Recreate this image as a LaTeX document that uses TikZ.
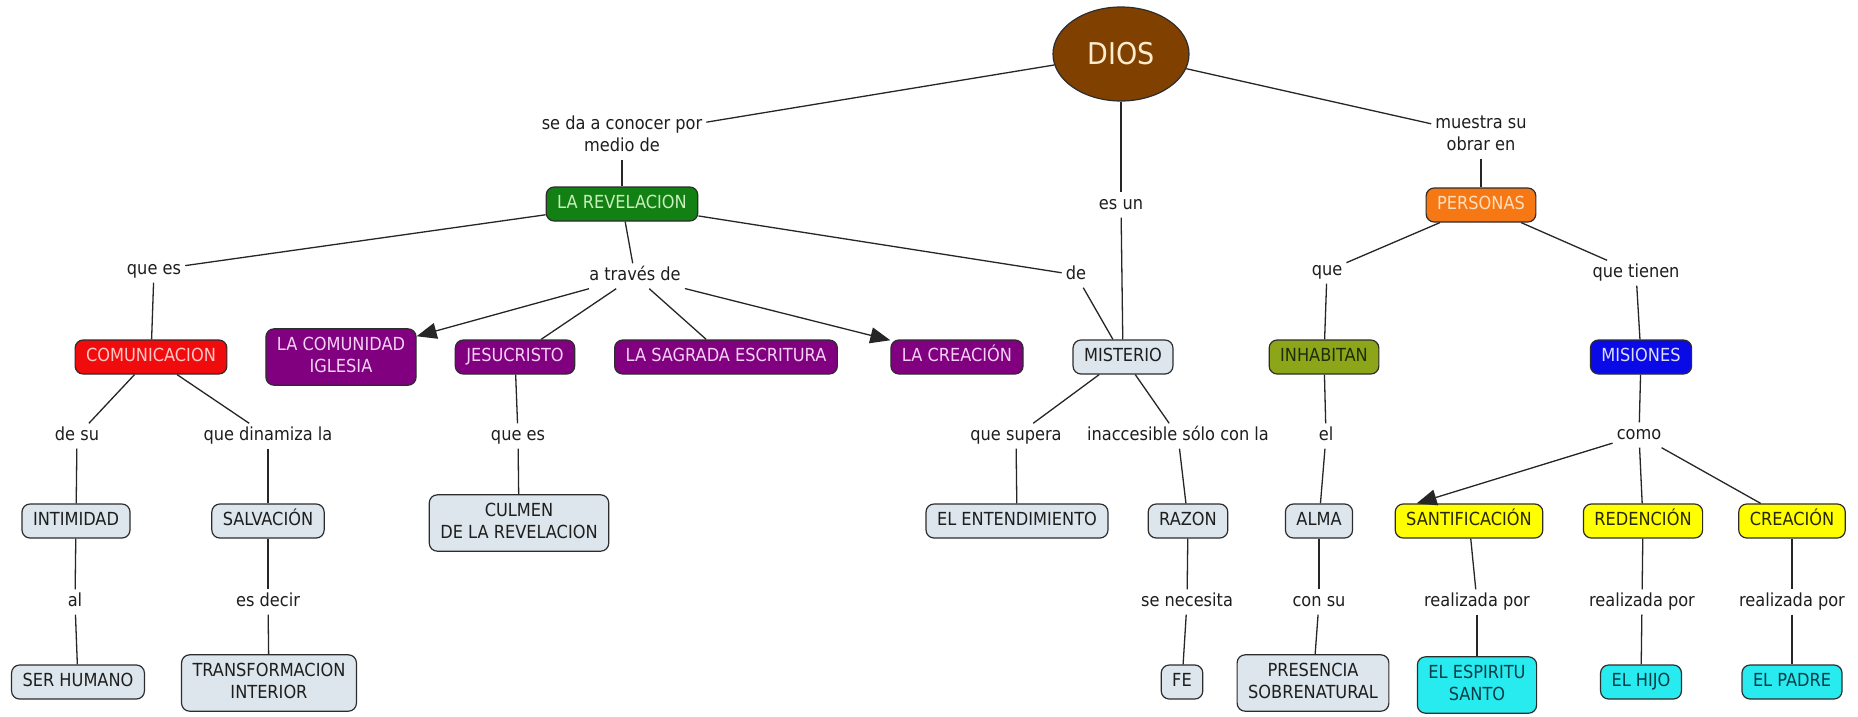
\documentclass[tikz,border=0pt]{standalone}
\usepackage{fontspec}
\setmainfont{DejaVu Sans Condensed}
\usetikzlibrary{shapes.geometric,arrows.meta}
\definecolor{cbrown}{RGB}{128,64,0}
\definecolor{cbrownt}{RGB}{255,236,205}
\definecolor{cgreen}{RGB}{18,128,18}
\definecolor{cgreent}{RGB}{200,240,190}
\definecolor{cred}{RGB}{240,12,12}
\definecolor{credt}{RGB}{255,200,200}
\definecolor{cpurp}{RGB}{128,0,128}
\definecolor{cpurpt}{RGB}{245,210,245}
\definecolor{cgrey}{RGB}{220,230,236}
\definecolor{cgreyt}{RGB}{30,30,30}
\definecolor{corange}{RGB}{245,120,20}
\definecolor{corant}{RGB}{255,222,190}
\definecolor{colive}{RGB}{140,165,25}
\definecolor{colivt}{RGB}{30,45,10}
\definecolor{cblue}{RGB}{10,10,230}
\definecolor{cbluet}{RGB}{220,220,255}
\definecolor{cyell}{RGB}{255,255,0}
\definecolor{cyelt}{RGB}{40,40,0}
\definecolor{ccyan}{RGB}{40,235,240}
\definecolor{ccyant}{RGB}{10,60,70}
\definecolor{cborder}{RGB}{45,45,45}
\definecolor{cphr}{RGB}{30,30,30}
\tikzset{
  concept/.style={draw=cborder, line width=1.2pt, rounded corners=8pt, align=center,
    font=\fontsize{18}{22}\selectfont, text height=13pt, text depth=4pt,
    inner xsep=11pt, inner ysep=8.5pt},
  multi/.style={text height=},
  phrase/.style={align=center, font=\fontsize{18}{22}\selectfont, text=cphr,
    inner sep=4pt, text height=13pt, text depth=4pt},
  link/.style={line width=1.3pt, draw=black!85},
  arr/.style={link, -{Triangle[length=20pt,width=16pt]}},
  cgr/.style={concept, fill=cgrey, text=cgreyt},
}
\begin{document}
\begin{tikzpicture}[x=1pt,y=-1pt]
\useasboundingbox (0,0) rectangle (1858,716);
\fill[white] (0,0) rectangle (1858,716);
% concepts
\node[ellipse, draw=cborder, line width=1.2pt, fill=cbrown, text=cbrownt,
  minimum width=136pt, minimum height=94pt, font=\fontsize{30}{34}\selectfont] (dios) at (1121,54) {DIOS};
\node[concept, fill=cgreen, text=cgreent] (rev) at (622,204) {LA REVELACION};
\node[concept, fill=corange, text=corant] (pers) at (1481,205) {PERSONAS};
\node[concept, fill=cred, text=credt] (com) at (151,357) {COMUNICACION};
\node[concept, multi, fill=cpurp, text=cpurpt] (comu) at (341,357) {LA COMUNIDAD\\IGLESIA};
\node[concept, fill=cpurp, text=cpurpt] (jes) at (515,357) {JESUCRISTO};
\node[concept, fill=cpurp, text=cpurpt] (sag) at (726,357) {LA SAGRADA ESCRITURA};
\node[concept, fill=cpurp, text=cpurpt] (crea) at (957,357) {LA CREACIÓN};
\node[cgr] (mis) at (1123,357) {MISTERIO};
\node[concept, fill=colive, text=colivt] (inh) at (1324,357) {INHABITAN};
\node[concept, fill=cblue, text=cbluet] (misi) at (1641,357) {MISIONES};
\node[cgr] (intim) at (76,521) {INTIMIDAD};
\node[cgr] (salv) at (268,521) {SALVACIÓN};
\node[cgr, multi] (culmen) at (519,523) {CULMEN\\DE LA REVELACION};
\node[cgr] (ent) at (1017,521) {EL ENTENDIMIENTO};
\node[cgr] (razon) at (1188,521) {RAZON};
\node[cgr] (alma) at (1319,521) {ALMA};
\node[concept, fill=cyell, text=cyelt] (sant) at (1469,521) {SANTIFICACIÓN};
\node[concept, fill=cyell, text=cyelt] (red) at (1643,521) {REDENCIÓN};
\node[concept, fill=cyell, text=cyelt] (creac) at (1792,521) {CREACIÓN};
\node[cgr] (ser) at (78,682) {SER HUMANO};
\node[cgr, multi] (transf) at (269,683) {TRANSFORMACION\\INTERIOR};
\node[cgr] (fe) at (1182,682) {FE};
\node[cgr, multi] (pres) at (1313,683) {PRESENCIA\\SOBRENATURAL};
\node[concept, multi, fill=ccyan, text=ccyant] (esp) at (1477,685) {EL ESPIRITU\\SANTO};
\node[concept, fill=ccyan, text=ccyant] (hijo) at (1641,682) {EL HIJO};
\node[concept, fill=ccyan, text=ccyant] (padre) at (1792,682) {EL PADRE};
% linking phrases
\node[phrase, multi] (seda) at (622,136) {se da a conocer por\\medio de};
\node[phrase] (esun) at (1121,205) {es un};
\node[phrase, multi] (muestra) at (1481,135) {muestra su\\obrar en};
\node[phrase] (quees1) at (154,270) {que es};
\node[phrase] (atraves) at (635,276) {a través de};
\node[phrase] (de) at (1076,275) {de};
\node[phrase] (que) at (1327,271) {que};
\node[phrase] (quetienen) at (1636,273) {que tienen};
\node[phrase] (desu) at (77,436) {de su};
\node[phrase] (dinam) at (268,436) {que dinamiza la};
\node[phrase] (quees2) at (518,436) {que es};
\node[phrase] (supera) at (1016,436) {que supera};
\node[phrase] (inacc) at (1178,436) {inaccesible sólo con la};
\node[phrase] (el) at (1326,436) {el};
\node[phrase] (como) at (1639,435) {como};
\node[phrase] (al) at (75,602) {al};
\node[phrase] (esdecir) at (268,602) {es decir};
\node[phrase] (necesita) at (1187,602) {se necesita};
\node[phrase] (consu) at (1319,602) {con su};
\node[phrase] (real1) at (1477,602) {realizada por};
\node[phrase] (real2) at (1642,602) {realizada por};
\node[phrase] (real3) at (1792,602) {realizada por};
% connectors
\draw[link] (dios) -- (seda);
\draw[link] (seda) -- (rev);
\draw[link] (dios) -- (esun);
\draw[link] (esun) -- (mis);
\draw[link] (dios) -- (muestra);
\draw[link] (muestra) -- (pers);
\draw[link] (rev) -- (quees1);
\draw[link] (quees1) -- (com);
\draw[link] (rev) -- (atraves);
\draw[arr] (atraves) -- (comu);
\draw[link] (atraves) -- (jes);
\draw[link] (atraves) -- (sag);
\draw[arr] (atraves) -- (crea);
\draw[link] (rev) -- (de);
\draw[link] (de) -- (mis);
\draw[link] (com) -- (desu);
\draw[link] (desu) -- (intim);
\draw[link] (intim) -- (al);
\draw[link] (al) -- (ser);
\draw[link] (com) -- (dinam);
\draw[link] (dinam) -- (salv);
\draw[link] (salv) -- (esdecir);
\draw[link] (esdecir) -- (transf);
\draw[link] (jes) -- (quees2);
\draw[link] (quees2) -- (culmen);
\draw[link] (mis) -- (supera);
\draw[link] (supera) -- (ent);
\draw[link] (mis) -- (inacc);
\draw[link] (inacc) -- (razon);
\draw[link] (razon) -- (necesita);
\draw[link] (necesita) -- (fe);
\draw[link] (pers) -- (que);
\draw[link] (que) -- (inh);
\draw[link] (inh) -- (el);
\draw[link] (el) -- (alma);
\draw[link] (alma) -- (consu);
\draw[link] (consu) -- (pres);
\draw[link] (pers) -- (quetienen);
\draw[link] (quetienen) -- (misi);
\draw[link] (misi) -- (como);
\draw[arr] (como) -- ([xshift=22pt]sant.north west);
\draw[link] (como) -- (red);
\draw[link] (como) -- (creac);
\draw[link] (sant) -- (real1);
\draw[link] (real1) -- (esp);
\draw[link] (red) -- (real2);
\draw[link] (real2) -- (hijo);
\draw[link] (creac) -- (real3);
\draw[link] (real3) -- (padre);
\end{tikzpicture}
\end{document}
